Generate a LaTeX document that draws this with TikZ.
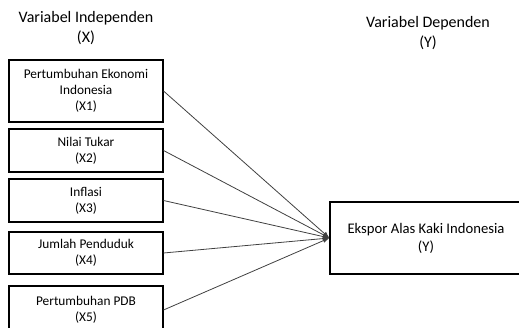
\documentclass[tikz,border=0pt]{standalone}
\usepackage{fontspec}
\setmainfont{Carlito}
\usetikzlibrary{arrows.meta}

\begin{document}
\begin{tikzpicture}
      [
        x=0.75pt, y=-0.75pt,
        varbox/.style = {draw, line width=0.8pt, align=center, inner sep=2pt,
            font=\fontsize{10}{12}\selectfont, minimum width=115.5pt},
        varhead/.style = {align=center, font=\fontsize{12}{15}\selectfont},
        link/.style = {black!75, line width=0.6pt, -{Latex[length=5pt,width=3.5pt]}}
      ]
      \useasboundingbox (0,0) rectangle (519,328);
      \clip (0,0) rectangle (519,328);

      \node[varhead] (headx) at (86,28) {Variabel Independen\\(X)};
      \node[varhead] (heady) at (428,33) {Variabel Dependen\\(Y)};

      \node[varbox, minimum height=46.5pt] (x1) at (86,91) {Pertumbuhan Ekonomi\\Indonesia\\(X1)};
      \node[varbox, minimum height=32.25pt] (x2) at (86,150.5) {Nilai Tukar\\(X2)};
      \node[varbox, minimum height=32.25pt] (x3) at (86,200.5) {Inflasi\\(X3)};
      \node[varbox, minimum height=31.5pt] (x4) at (86,253) {Jumlah Penduduk\\(X4)};
      \node[varbox, minimum height=36pt] (x5) at (86,310) {Pertumbuhan PDB\\(X5)};

      \node[varbox, minimum width=144pt, minimum height=54pt,
            font=\fontsize{11}{13.5}\selectfont] (y) at (426,238) {Ekspor Alas Kaki Indonesia\\(Y)};

      \foreach \i in {1,...,5}
        \draw[link] (x\i.east) -- (y.west);

    \end{tikzpicture}
\end{document}
